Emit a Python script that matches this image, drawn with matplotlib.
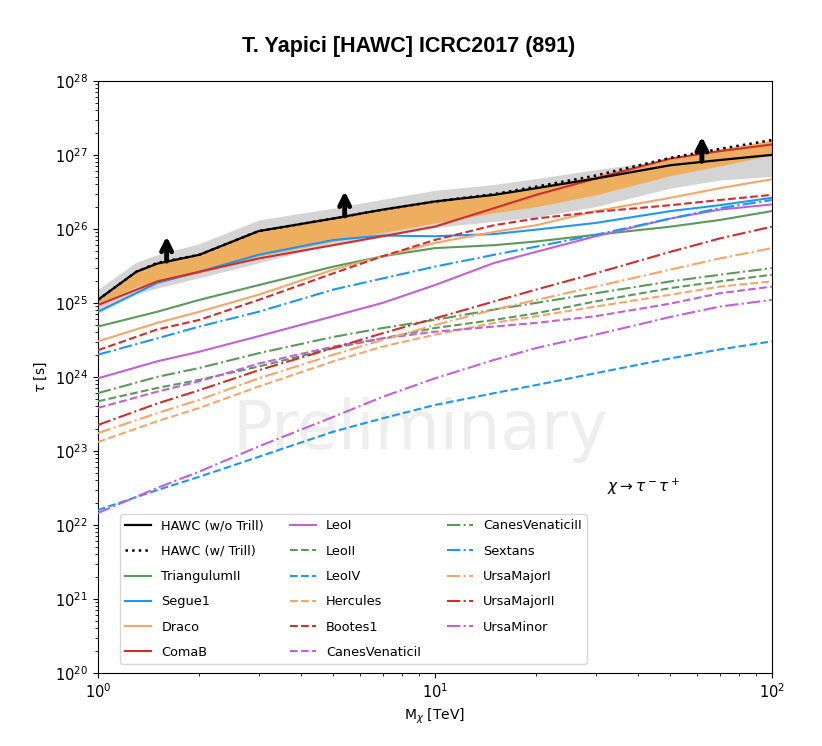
import numpy as np
import matplotlib
matplotlib.use("Agg")
import matplotlib.pyplot as plt
from matplotlib.patches import FancyArrowPatch


# dark matter mass grid [TeV]
mass = [1, 1.5, 2, 3, 5, 7, 10, 15, 20, 30, 50, 70, 100]
mass_hawc = [1, 1.3, 1.5, 2, 3, 5, 7, 10, 15, 20, 30, 50, 70, 100]

# log10(tau / s)
hawc_no_trill = [25.04, 25.42, 25.53, 25.65, 25.97, 26.14, 26.26, 26.37, 26.46, 26.55, 26.68, 26.86, 26.93, 27.0]
hawc_trill = [25.04, 25.42, 25.54, 25.65, 25.97, 26.14, 26.26, 26.37, 26.47, 26.57, 26.72, 26.96, 27.08, 27.2]
band1_low = [24.98, 25.22, 25.29, 25.4, 25.63, 25.83, 25.95, 26.08, 26.22, 26.3, 26.46, 26.72, 26.85, 27.0]
band2_low = [24.86, 25.12, 25.2, 25.34, 25.54, 25.8, 25.9, 26.02, 26.1, 26.16, 26.3, 26.55, 26.66, 26.71]
band2_high = [25.18, 25.55, 25.65, 25.8, 26.12, 26.28, 26.4, 26.52, 26.6, 26.68, 26.8, 26.94, 27.04, 27.12]

triangulum2 = [24.68, 24.88, 25.04, 25.24, 25.49, 25.63, 25.74, 25.78, 25.83, 25.92, 26.03, 26.12, 26.24]
segue1 = [24.88, 25.27, 25.42, 25.65, 25.85, 25.91, 25.9, 25.93, 25.99, 26.08, 26.24, 26.32, 26.42]
draco = [24.48, 24.73, 24.88, 25.11, 25.45, 25.63, 25.81, 25.96, 26.05, 26.24, 26.42, 26.55, 26.67]
comab = [24.97, 25.29, 25.42, 25.6, 25.78, 25.9, 26.03, 26.28, 26.46, 26.68, 26.95, 27.05, 27.14]
leo1 = [23.98, 24.21, 24.34, 24.55, 24.82, 25.0, 25.24, 25.54, 25.69, 25.9, 26.14, 26.26, 26.33]
leo2 = [23.67, 23.85, 23.96, 24.14, 24.39, 24.52, 24.66, 24.77, 24.86, 25.02, 25.2, 25.29, 25.38]
leo4 = [22.2, 22.47, 22.65, 22.92, 23.26, 23.44, 23.62, 23.78, 23.89, 24.05, 24.25, 24.37, 24.48]
hercules = [23.12, 23.4, 23.58, 23.87, 24.21, 24.41, 24.57, 24.73, 24.82, 24.95, 25.11, 25.22, 25.29]
bootes1 = [24.36, 24.64, 24.77, 25.04, 25.4, 25.63, 25.85, 26.05, 26.14, 26.23, 26.32, 26.39, 26.46]
cvn1 = [23.58, 23.8, 23.94, 24.18, 24.41, 24.52, 24.61, 24.68, 24.73, 24.82, 24.99, 25.13, 25.22]
cvn2 = [23.78, 24.0, 24.12, 24.32, 24.54, 24.66, 24.77, 24.91, 25.0, 25.13, 25.29, 25.38, 25.47]
sextans = [24.3, 24.52, 24.68, 24.88, 25.18, 25.33, 25.49, 25.65, 25.76, 25.92, 26.14, 26.28, 26.39]
uma1 = [23.24, 23.51, 23.69, 23.98, 24.3, 24.5, 24.7, 24.91, 25.04, 25.22, 25.45, 25.6, 25.74]
uma2 = [23.35, 23.64, 23.82, 24.09, 24.39, 24.59, 24.79, 25.02, 25.18, 25.4, 25.69, 25.87, 26.03]
umi = [22.16, 22.5, 22.72, 23.06, 23.46, 23.73, 23.98, 24.23, 24.39, 24.57, 24.81, 24.95, 25.04]

arrow_mass = [1.6, 5.4, 62]

GREEN = "#5b995b"
BLUE = "#1f96f5"
ORANGE = "#f7a56b"
RED = "#cd2e2e"
PURPLE = "#c061d8"

dwarfs = [
    ("TriangulumII", triangulum2, GREEN, "-"),
    ("Segue1", segue1, BLUE, "-"),
    ("Draco", draco, ORANGE, "-"),
    ("ComaB", comab, RED, "-"),
    ("LeoI", leo1, PURPLE, "-"),
    ("LeoII", leo2, GREEN, "--"),
    ("LeoIV", leo4, BLUE, "--"),
    ("Hercules", hercules, ORANGE, "--"),
    ("Bootes1", bootes1, RED, "--"),
    ("CanesVenaticiI", cvn1, PURPLE, "--"),
    ("CanesVenaticiII", cvn2, GREEN, "-."),
    ("Sextans", sextans, BLUE, "-."),
    ("UrsaMajorI", uma1, ORANGE, "-."),
    ("UrsaMajorII", uma2, RED, "-."),
    ("UrsaMinor", umi, PURPLE, "-."),
]


def p10(v):
    return 10.0 ** np.asarray(v)


fig = plt.figure(figsize=(8.22, 7.46), dpi=100)
ax = fig.add_axes([0.119, 0.098, 0.82, 0.7936])

ax.fill_between(mass_hawc, p10(band2_low), p10(band2_high), color="#d4d4d4", lw=0, zorder=1)
ax.fill_between(mass_hawc, p10(band1_low), p10(hawc_trill), color="#eeae60", lw=0, zorder=2)

ax.plot(mass_hawc, p10(hawc_no_trill), color="k", lw=1.6, zorder=5, label="HAWC (w/o Trill)")
ax.plot(mass_hawc, p10(hawc_trill), color="k", lw=1.8, ls=":", zorder=5, label="HAWC (w/ Trill)")

for name, vals, col, ls in dwarfs:
    ax.plot(mass, p10(vals), color=col, ls=ls, lw=1.5, zorder=3, label=name)

# lower-limit arrows sitting on the HAWC curve
for m in arrow_mass:
    base = np.interp(np.log10(m), np.log10(mass_hawc), hawc_no_trill)
    arr = FancyArrowPatch((m, 10 ** (base - 0.03)), (m, 10 ** (base + 0.38)),
                          arrowstyle="->", lw=3.5, color="k", mutation_scale=18, zorder=6)
    ax.add_patch(arr)

ax.set_xscale("log")
ax.set_yscale("log")
ax.set_xlim(1, 100)
ax.set_ylim(1e20, 1e28)
ax.tick_params(labelsize=10.5)
ax.set_xlabel(r"M$_\chi$ [TeV]", fontsize=10)
ax.set_ylabel(r"$\tau$ [s]", fontsize=10)

ax.text(0.478, 0.41, "Preliminary", transform=ax.transAxes, fontsize=48,
        color="#eeeeee", ha="center", va="center", zorder=0)
ax.text(0.81, 0.314, r"$\chi \rightarrow \tau^- \tau^+$", transform=ax.transAxes,
        fontsize=11, ha="center", va="center")

ax.legend(ncol=3, loc="lower left", bbox_to_anchor=(0.033, 0.015), borderaxespad=0,
          fontsize=9.3, labelspacing=0.95, framealpha=0.8)

fig.suptitle("T. Yapici [HAWC] ICRC2017 (891)", x=0.497, y=0.937, va="center",
             fontsize=15.5, fontweight="bold", family="Liberation Sans")

fig.savefig("out.png", dpi=100)
